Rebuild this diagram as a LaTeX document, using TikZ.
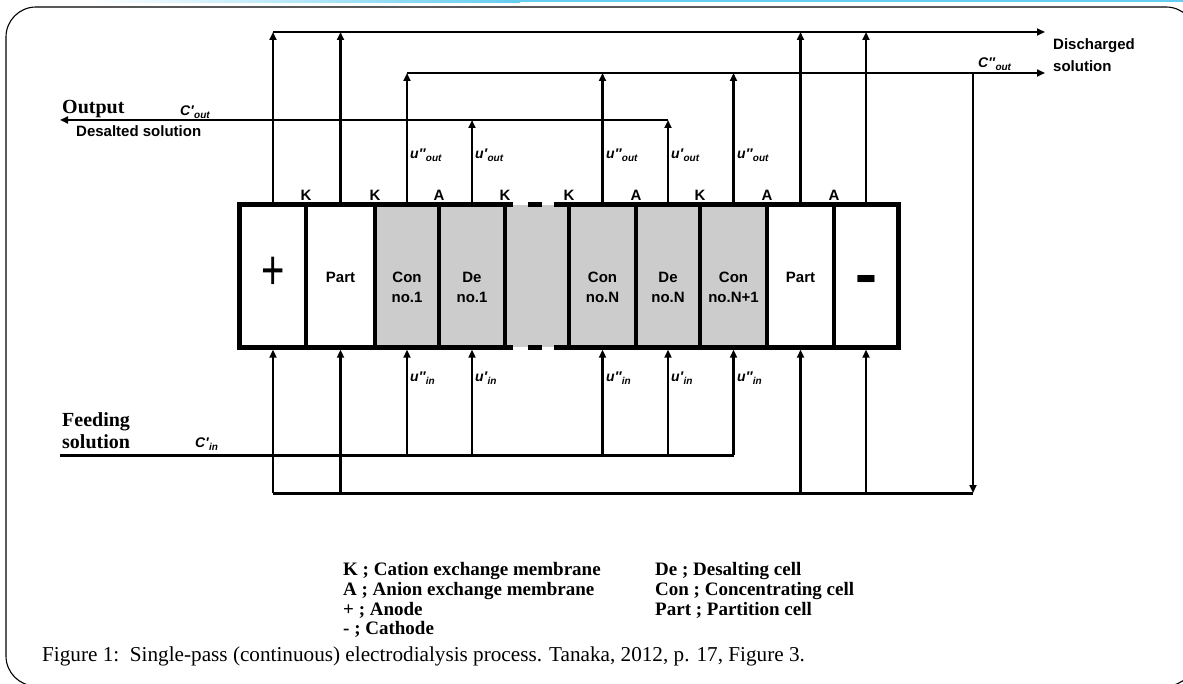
\documentclass[tikz,border=0pt]{standalone}
\usepackage{fontspec}
\setmainfont{Liberation Serif}
\setsansfont{Liberation Sans}
\usetikzlibrary{arrows.meta}
\definecolor{cellgray}{RGB}{204,204,204}
\definecolor{topcyan}{RGB}{100,205,240}
\newcommand\fsz[2]{\fontsize{#1}{#2}\selectfont}
\newcommand\flowlab[3]{\textit{#1#2}\raisebox{-0.45ex}{\fsz{10}{10}\textit{#3}}}
\begin{document}
\begin{tikzpicture}[x=1pt,y=-1pt,
  cellbox/.style={inner sep=0pt,minimum height=142pt,fill=#1},
  celltext/.style={font=\sffamily\bfseries\fsz{15}{20},align=center,inner sep=0pt},
  memlab/.style={font=\sffamily\bfseries\fsz{15}{15},inner sep=0pt},
  flow/.style={line width=2.3pt},
  mainflow/.style={line width=3pt},
  arr/.style={-{Triangle[length=8pt,width=7pt]}},
  flowlabel/.style={anchor=west,inner sep=0pt,font=\sffamily\bfseries\fsz{14}{14}},
  sidelab/.style={anchor=west,inner sep=0pt,align=left},
  legendtext/.style={anchor=west,inner sep=0pt,font=\rmfamily\bfseries\fsz{19}{19}},
  wall/.style={line width=4.5pt},
  rim/.style={line width=5pt,line join=miter},
]
\useasboundingbox (0,0) rectangle (1183,684);
\fill[white] (0,0) rectangle (1183,684);
\shade[left color=white,right color=topcyan] (90,0) rectangle (520,2.5);
\fill[topcyan] (520,0) rectangle (1183,2.5);
\draw[line width=1.1pt,rounded corners=30pt] (6,7) rectangle (1196,686);

% cells
\node[cellbox=white,minimum width=66pt] (plus) at (273,276) {};
\node[cellbox=white,minimum width=69pt] (partL) at (340.5,276) {};
\node[cellbox=cellgray,minimum width=64pt] (con1) at (407,276) {};
\node[cellbox=cellgray,minimum width=66pt] (de1) at (472,276) {};
\node[cellbox=cellgray,minimum width=64pt] (gap) at (537,276) {};
\node[cellbox=cellgray,minimum width=67pt] (conN) at (602.5,276) {};
\node[cellbox=cellgray,minimum width=64pt] (deN) at (668,276) {};
\node[cellbox=cellgray,minimum width=67pt] (conNN) at (733.5,276) {};
\node[cellbox=white,minimum width=67pt] (partR) at (800.5,276) {};
\node[cellbox=white,minimum width=64pt] (minus) at (866,276) {};

% junction coordinates
\coordinate (h1s) at (273,32);
\coordinate (h1e) at (1045,32);
\coordinate (h2s) at (407,73);
\coordinate (h2e) at (1045,73);
\coordinate (h3s) at (668,120);
\coordinate (h3e) at (60,120);
\coordinate (drainTop) at (973,73);
\coordinate (drainBot) at (973,493);
\coordinate (botL) at (273,493);
\coordinate (feedL) at (60,455);
\coordinate (feedR) at (733.5,455);

% horizontal collectors
\draw[flow,arr] (h1s) -- (h1e);
\draw[flow,arr] (h2s) -- (h2e);
\draw[flow,arr] (h3s) -- (h3e);
\draw[flow,arr] (drainTop) -- (drainBot);
\draw[mainflow] (botL) -- (drainBot);
\draw[mainflow] (feedL) -- (feedR);

% outlets
\draw[flow,arr] (plus.north) -- (plus.north |- h1s);
\draw[flow,arr] (partL.north) -- (partL.north |- h1s);
\draw[flow,arr] (partR.north) -- (partR.north |- h1s);
\draw[flow,arr] (minus.north) -- (minus.north |- h1s);
\draw[flow,arr] (con1.north) -- (con1.north |- h2s);
\draw[flow,arr] (conN.north) -- (conN.north |- h2s);
\draw[flow,arr] (conNN.north) -- (conNN.north |- h2s);
\draw[flow,arr] (de1.north) -- (de1.north |- h3s);
\draw[flow,arr] (deN.north) -- (deN.north |- h3s);

% inlets
\draw[flow,arr] (plus.south |- botL) -- ([yshift=-2.5pt]plus.south);
\draw[flow,arr] (partL.south |- botL) -- ([yshift=-2.5pt]partL.south);
\draw[flow,arr] (partR.south |- botL) -- ([yshift=-2.5pt]partR.south);
\draw[flow,arr] (minus.south |- botL) -- ([yshift=-2.5pt]minus.south);
\draw[flow,arr] (con1.south |- feedL) -- ([yshift=-2.5pt]con1.south);
\draw[flow,arr] (de1.south |- feedL) -- ([yshift=-2.5pt]de1.south);
\draw[flow,arr] (conN.south |- feedL) -- ([yshift=-2.5pt]conN.south);
\draw[flow,arr] (deN.south |- feedL) -- ([yshift=-2.5pt]deN.south);
\draw[flow,arr] (conNN.south |- feedL) -- ([yshift=-2.5pt]conNN.south);

% membranes
\foreach \c in {plus,partL,con1,de1,gap,conN,deN,conNN,partR}
  \draw[wall] (\c.north east) -- (\c.south east);
\draw[rim] (de1.north east) -- (plus.north west) -- (plus.south west) -- (de1.south east);
\draw[rim] (gap.north east) -- (minus.north east) -- (minus.south east) -- (gap.south east);
\draw[rim,dash pattern=on 8pt off 15pt on 14pt off 12pt on 15pt] (de1.north east) -- (gap.north east);
\draw[rim,dash pattern=on 8pt off 15pt on 14pt off 12pt on 15pt] (de1.south east) -- (gap.south east);

% cell texts
\node[inner sep=0pt,font=\sffamily\fsz{40}{40}] (plust) at (273,273) {\scalebox{1}[1.4]{+}};
\node[inner sep=0pt,anchor=base,font=\sffamily\bfseries\fsz{34}{34}] (minust) at (866,301) {\scalebox{1}[1.9]{−}};
\node[celltext] (partLt) at (340.5,277) {Part};
\node[celltext] (con1t) at (407,287) {Con\\no.1};
\node[celltext] (de1t) at (472,287) {De\\no.1};
\node[celltext] (conNt) at (602.5,287) {Con\\no.N};
\node[celltext] (deNt) at (668,287) {De\\no.N};
\node[celltext] (conNNt) at (733.5,287) {Con\\no.N+1};
\node[celltext] (partRt) at (800.5,277) {Part};

% membrane labels
\node[memlab] (m1) at (306,195) {K};
\node[memlab] (m2) at (375,195) {K};
\node[memlab] (m3) at (439,195) {A};
\node[memlab] (m4) at (505,195) {K};
\node[memlab] (m5) at (569,195) {K};
\node[memlab] (m6) at (636,195) {A};
\node[memlab] (m7) at (700,195) {K};
\node[memlab] (m8) at (767,195) {A};
\node[memlab] (m9) at (834,195) {A};

% flow labels
\node[flowlabel] (uo1) at (410,155) {\flowlab{u}{″}{out}};
\node[flowlabel] (uo2) at (475,155) {\flowlab{u}{′}{out}};
\node[flowlabel] (uo3) at (606,155) {\flowlab{u}{″}{out}};
\node[flowlabel] (uo4) at (671,155) {\flowlab{u}{′}{out}};
\node[flowlabel] (uo5) at (737,155) {\flowlab{u}{″}{out}};
\node[flowlabel] (ui1) at (410,378) {\flowlab{u}{″}{in}};
\node[flowlabel] (ui2) at (475,378) {\flowlab{u}{′}{in}};
\node[flowlabel] (ui3) at (606,378) {\flowlab{u}{″}{in}};
\node[flowlabel] (ui4) at (671,378) {\flowlab{u}{′}{in}};
\node[flowlabel] (ui5) at (737,378) {\flowlab{u}{″}{in}};
\node[flowlabel] (cout) at (180,112) {\flowlab{C}{′}{out}};
\node[flowlabel] (cout2) at (978,64) {\flowlab{C}{″}{out}};
\node[flowlabel] (cin) at (195,444) {\flowlab{C}{′}{in}};

% side labels
\node[sidelab,font=\rmfamily\bfseries\fsz{20}{20}] (outp) at (62,109) {Output};
\node[sidelab,font=\sffamily\bfseries\fsz{15}{15}] (desal) at (76,131) {Desalted solution};
\node[sidelab,font=\rmfamily\bfseries\fsz{20}{22}] (feed) at (62,431) {Feeding\\solution};
\node[sidelab,font=\sffamily\bfseries\fsz{15}{22}] (disch) at (1053,55) {Discharged\\solution};

% legend
\node[legendtext] (lk) at (343,571) {K ; Cation exchange membrane};
\node[legendtext] (la) at (343,591) {A ; Anion exchange membrane};
\node[legendtext] (lp) at (343,610) {+ ; Anode};
\node[legendtext] (lm) at (343,629) {- ; Cathode};
\node[legendtext] (lde) at (655,571) {De ; Desalting cell};
\node[legendtext] (lcon) at (655,591) {Con ; Concentrating cell};
\node[legendtext] (lpart) at (655,610) {Part ; Partition cell};

% caption
\node[anchor=west,inner sep=0pt,font=\rmfamily\fsz{21.2}{22}] (cap) at (42,656) {Figure 1:\ \ Single-pass (continuous) electrodialysis process. Tanaka, 2012, p. 17, Figure 3.};
\end{tikzpicture}
\end{document}
